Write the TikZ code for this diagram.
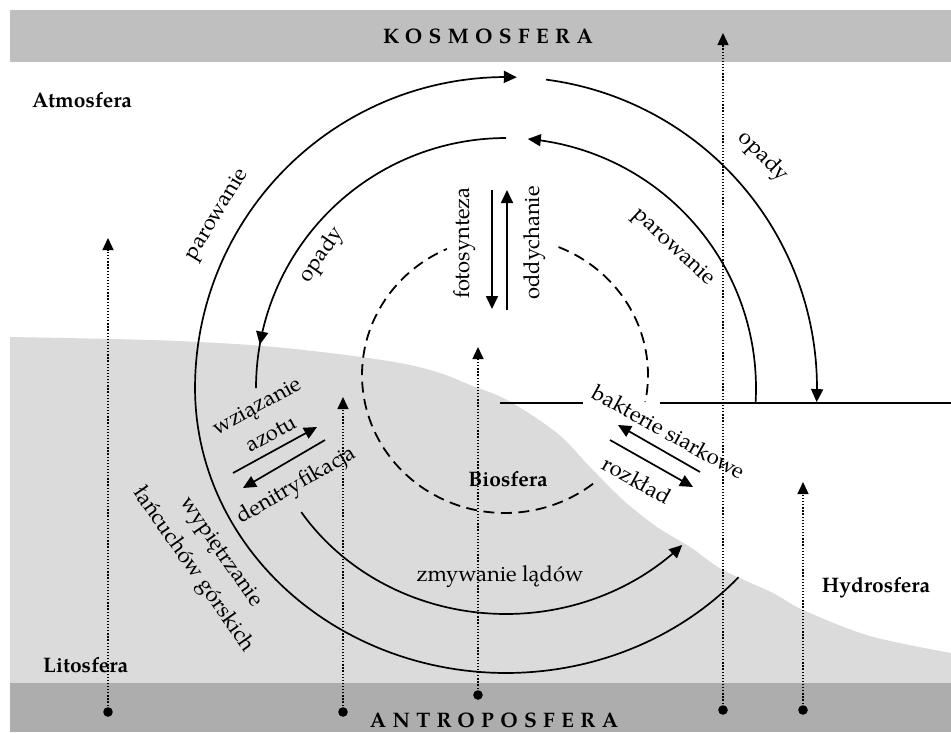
\documentclass[tikz,border=0pt]{standalone}
\usepackage{fontspec}
\setmainfont{TeX Gyre Pagella}
\usetikzlibrary{arrows.meta}
\definecolor{bandtop}{HTML}{BFBFBF}
\definecolor{bandbot}{HTML}{ADADAD}
\definecolor{land}{HTML}{DBDBDB}
\begin{document}
\begin{tikzpicture}[x=1pt,y=-1pt,
  lbl/.style={font=\fontsize{22}{25}\selectfont, inner sep=0pt},
  bl/.style={font=\fontsize{21}{25}\selectfont\bfseries, inner sep=0pt},
  cyc/.style={line width=1.7pt},
  tipd/.style={-{Triangle[length=13pt,width=12pt]}},
  dotl/.style={line width=1.4pt, dash pattern=on 1.3pt off 1.8pt, -{Triangle[length=12pt,width=11pt]}},
  dsh/.style={line width=1.8pt, dash pattern=on 11pt off 6.5pt},
]
\useasboundingbox (0,0) rectangle (951,732);
\fill[white] (0,0) rectangle (951,732);
% bands and land
\fill[bandtop] (10,10) rectangle (951,62);
\fill[land] plot[smooth, tension=0.55] coordinates {(10,337) (150,340) (250,345) (330,353) (400,363) (440,373) (470,385) (507,400) (557,433) (590,467) (623,500) (657,527) (690,547) (723,570) (773,593) (803,610) (870,636) (951,653)} -- (951,683) -- (10,683) -- cycle;
\fill[bandbot] (10,683) rectangle (951,732);

% sea level
\coordinate (s1) at (500,403); \coordinate (s2) at (583,403);
\coordinate (s3) at (660,403); \coordinate (s4) at (951,403);
\draw[line width=2.4pt] (s1) -- (s2);
\draw[line width=2.4pt] (s3) -- (s4);

% outer cycle: wypietrzanie / parowanie
\draw[cyc,tipd] plot[domain=41.6:180, samples=90] ({506+311*cos(\x)},{388+285*sin(\x)})
   plot[domain=180:272, samples=60] ({506+311*cos(\x)},{388+311*sin(\x)});
% outer right: opady
\draw[cyc,tipd] plot[domain=-82.6:2.6, samples=80] ({506+311*cos(\x)},{388+311*sin(\x)});
% inner left: opady
\draw[cyc,tipd] plot[domain=270:190, samples=70] ({506+250*cos(\x)},{388+250*sin(\x)});
\draw[cyc] plot[domain=191:180, samples=10] ({506+250*cos(\x)},{388+250*sin(\x)});
% inner right: parowanie
\draw[cyc,tipd] plot[domain=3.2:-85, samples=80] ({506+250*cos(\x)},{388+250*sin(\x)});
% zmywanie ladow
\draw[cyc,tipd] plot[domain=146.7:44, samples=80] ({506+245*cos(\x)},{388+226*sin(\x)});

% biosphere dashed ellipse
\draw[dsh] plot[domain=52:246, samples=90] ({505+143*cos(\x)},{375+138*sin(\x)});
\draw[dsh] plot[domain=-68:11.3, samples=50] ({505+143*cos(\x)},{375+138*sin(\x)});

% fotosynteza / oddychanie
\coordinate (f1) at (492,190); \coordinate (f2) at (492,309);
\coordinate (o1) at (507,310); \coordinate (o2) at (507,190);
\draw[cyc,tipd] (f1) -- (f2);
\draw[cyc,tipd] (o1) -- (o2);

% nitrogen
\coordinate (n1) at (233,473); \coordinate (n2) at (317,427);
\coordinate (n3) at (325,440); \coordinate (n4) at (243,488);
\draw[cyc,tipd] (n1) -- (n2);
\draw[cyc,tipd] (n3) -- (n4);

% sulphur
\coordinate (b1) at (700,472); \coordinate (b2) at (618,425);
\coordinate (r1) at (610,440); \coordinate (r2) at (693,487);
\draw[cyc,tipd] (b1) -- (b2);
\draw[cyc,tipd] (r1) -- (r2);

% antroposphere dotted arrows
\foreach \n/\xx/\yb/\yt in {a/108/712/238, b/343/712/397, c/478/695/347, d/723/710/33, e/803/710/482}{
  \coordinate (d\n) at (\xx,\yb);
  \coordinate (t\n) at (\xx,\yt);
  \draw[dotl] (d\n) -- (t\n);
  \fill (d\n) circle[radius=4.8pt];
}

% labels
\node[bl] (kos) at (488,36) {\addfontfeature{LetterSpace=30}KOSMOSFERA};
\node[bl] (ant) at (494,720) {\addfontfeature{LetterSpace=30}ANTROPOSFERA};
\node[bl, anchor=west] (atm) at (32,100) {Atmosfera};
\node[bl, anchor=west] (lit) at (43,665) {Litosfera};
\node[bl] (hyd) at (876,588) {Hydrosfera};
\node[bl] (bio) at (508,479) {Biosfera};

\node[lbl, rotate=59] (parL) at (218,215) {parowanie};
\node[lbl, rotate=55] (opL) at (322,255) {opady};
\node[lbl, rotate=-45] (opR) at (763,157) {opady};
\node[lbl, rotate=-43] (parR) at (673,248) {parowanie};
\node[lbl, rotate=90] (fot) at (465,243) {fotosynteza};
\node[lbl, rotate=90] (odd) at (535,243) {oddychanie};
\node[lbl, rotate=29] (wz) at (258,408) {wziązanie};
\node[lbl, rotate=29] (az) at (271,434) {azotu};
\node[lbl, rotate=30] (den) at (297,486) {denitryfikacja};
\node[lbl, rotate=-55] (wyp) at (220,553) {wypiętrzanie};
\node[lbl, rotate=-55] (lan) at (193,570) {łańcuchów górskich};
\node[lbl, rotate=-29] (bak) at (669,432) {bakterie siarkowe};
\node[lbl, rotate=-29] (roz) at (637,480) {rozkład};
\node[lbl] (zmy) at (500,577) {zmywanie lądów};
\end{tikzpicture}
\end{document}
